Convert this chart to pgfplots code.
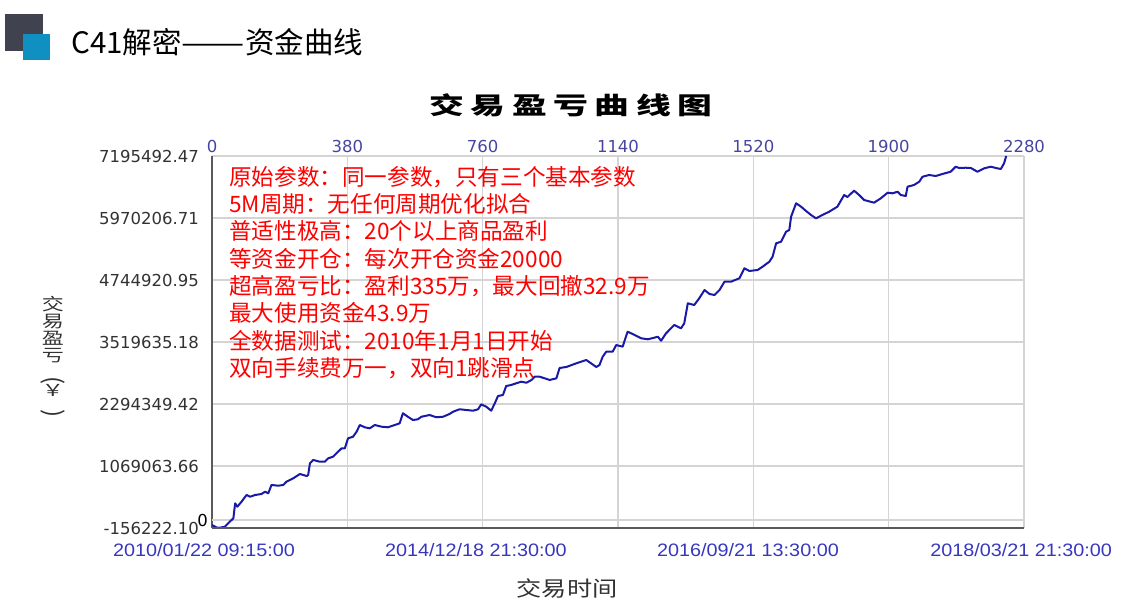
\documentclass[border=0pt]{standalone}
\usepackage{pgfplots}
\pgfplotsset{compat=1.18}
\usepackage{fontspec}
\usepackage{graphicx}
\setmainfont{DejaVu Sans}
\newfontfamily\cjk{Noto Sans CJK SC}
\newfontfamily\cjkwide{Noto Sans CJK SC}[FakeStretch=1.45]
\newfontfamily\cjkx{Noto Sans CJK SC}[FakeStretch=1.2]
\newfontfamily\datefont{Liberation Sans}[FakeStretch=1.1]

\definecolor{curve}{RGB}{25,25,165}
\definecolor{gridgray}{RGB}{212,212,212}
\definecolor{axisgray}{RGB}{90,90,90}
\definecolor{topblue}{RGB}{70,70,160}
\definecolor{dateblue}{RGB}{55,55,190}
\definecolor{labgray}{RGB}{50,50,50}
\definecolor{icondark}{RGB}{65,66,80}
\definecolor{iconblue}{RGB}{16,144,192}

\begin{document}
\begin{tikzpicture}
\useasboundingbox (0pt,0pt) rectangle (1125pt,614pt);

% slide header
\fill[icondark] (5pt,600pt) rectangle (43pt,563pt);
\fill[iconblue] (23pt,580pt) rectangle (50pt,554pt);
\node[anchor=west, inner sep=0pt, font=\cjk\fontsize{29.5}{29.5}\selectfont] at (71pt,572pt)
  {C41解密\scalebox{1.28}[1]{——}资金曲线};

% chart title
\node[inner sep=0pt, font=\cjkwide\bfseries\fontsize{24}{24}\selectfont] at (571pt,509pt)
  {交\hspace{6.5pt}易\hspace{6.5pt}盈\hspace{6.5pt}亏\hspace{6.5pt}曲\hspace{6.5pt}线\hspace{6.5pt}图};

% y label (stacked characters)
\node[align=center, inner sep=0pt, text=labgray, font=\cjk\fontsize{21}{17}\selectfont] at (53pt,257pt)
  {\scalebox{1.05}[0.8]{交}\\\scalebox{1.05}[0.8]{易}\\\scalebox{1.05}[0.8]{盈}\\\scalebox{1.05}[0.8]{亏}\\[-2pt]
   \rotatebox{-90}{\fontsize{24}{24}\selectfont(}\\[-2pt]\scalebox{1.05}[0.8]{￥}\\[-4pt]\rotatebox{-90}{\fontsize{24}{24}\selectfont)}};

% x label
\node[inner sep=0pt, text=labgray, font=\cjkx\fontsize{21}{21}\selectfont] at (567pt,26pt) {交易时间};

\begin{axis}[
  at={(212pt,86pt)}, anchor=south west,
  scale only axis, width=812pt, height=372pt,
  xmin=0, xmax=2280,
  ymin=-156222.10, ymax=7195492.47,
  enlargelimits=false, clip=false,
  scaled x ticks=false, scaled y ticks=false,
  axis x line*=top, axis y line*=left,
  x axis line style={draw=gridgray, line width=1.2pt, -},
  y axis line style={draw=axisgray, line width=1.6pt, -},
  xtick={0,380,760,1140,1520,1900,2280},
  xticklabels={0,380,760,1140,1520,1900,2280},
  ytick={-156222.10,1069063.66,2294349.42,3519635.18,4744920.95,5970206.71,7195492.47},
  yticklabels={-156222.10,1069063.66,2294349.42,3519635.18,4744920.95,5970206.71,7195492.47},
  extra y ticks={0}, extra y tick labels={0},
  extra y tick style={yticklabel style={xshift=9pt, text=black}},
  grid=major, major grid style={draw=gridgray, line width=1.2pt},
  tick style={draw=none},
  xticklabel style={font=\fontsize{16.5}{16.5}\selectfont, text=topblue, inner sep=0pt, anchor=south, yshift=3pt},
  yticklabel style={font=\fontsize{16.5}{16.5}\selectfont, text=labgray, inner sep=0pt, anchor=east, xshift=-13pt},
]
\addplot[curve, line width=2pt, line join=round] coordinates {
(0,-97000) (13,-146000) (22,-150000) (36,-131000) (50,-32000) (60,35000) (65,332000) (71,265000)
(83,364000) (97,496000) (107,462000) (121,496000) (139,516000) (149,561000) (158,530000) (167,694000)
(186,680000) (200,694000) (209,759000) (228,826000) (247,911000) (266,871000) (270,891000) (275,1122000)
(284,1188000) (303,1154000) (317,1154000) (326,1221000) (340,1253000) (354,1352000) (364,1419000) (373,1419000)
(382,1616000) (396,1648000) (406,1747000) (415,1879000) (429,1834000) (443,1814000) (457,1879000) (476,1846000)
(494,1834000) (513,1879000) (527,1913000) (536,2111000) (550,2043000) (564,1978000) (578,1992000) (588,2043000)
(611,2077000) (630,2032000) (649,2043000) (667,2097000) (677,2142000) (695,2190000) (714,2176000) (733,2162000)
(747,2190000) (756,2288000) (770,2241000) (784,2162000) (794,2308000) (803,2452000) (817,2472000) (826,2650000)
(840,2670000) (854,2703000) (868,2735000) (883,2715000) (897,2769000) (906,2834000) (920,2834000) (934,2802000)
(948,2769000) (967,2802000) (976,3006000) (995,3026000) (1023,3099000) (1051,3164000) (1079,3026000) (1088,3065000)
(1097,3229000) (1107,3328000) (1125,3328000) (1135,3460000) (1153,3427000) (1167,3723000) (1181,3678000) (1205,3593000)
(1224,3573000) (1252,3624000) (1261,3545000) (1275,3692000) (1298,3856000) (1317,3790000) (1326,3889000) (1336,4284000)
(1354,4251000) (1368,4383000) (1383,4547000) (1397,4468000) (1411,4448000) (1425,4547000) (1439,4711000) (1457,4711000)
(1481,4779000) (1495,4976000) (1509,4923000) (1532,4943000) (1546,5008000) (1565,5107000) (1574,5205000) (1584,5470000)
(1598,5502000) (1612,5699000) (1621,5733000) (1626,5996000) (1640,6261000) (1654,6194000) (1668,6109000) (1682,6030000)
(1696,5964000) (1714,6030000) (1733,6095000) (1756,6194000) (1775,6425000) (1784,6385000) (1803,6510000) (1817,6425000)
(1831,6326000) (1859,6273000) (1878,6360000) (1897,6470000) (1911,6458000) (1925,6490000) (1934,6425000) (1948,6405000)
(1953,6589000) (1971,6622000) (1986,6688000) (1995,6786000) (2014,6820000) (2032,6800000) (2051,6840000) (2074,6885000)
(2088,6984000) (2098,6958000) (2116,6964000) (2131,6958000) (2149,6885000) (2168,6952000) (2187,6984000) (2205,6952000)
(2215,6939000) (2224,7051000) (2230,7195000)
};
\end{axis}

% bottom axis line with date labels
\begin{axis}[
  at={(212pt,86pt)}, anchor=south west,
  scale only axis, width=812pt, height=372pt,
  xmin=0, xmax=2280,
  ymin=-156222.10, ymax=7195492.47,
  enlargelimits=false, scaled x ticks=false,
  axis x line*=bottom, axis y line=none,
  x axis line style={draw=axisgray, line width=1.6pt, -},
  tick style={draw=none},
  xtick={741,1505,2272},
  xticklabels={2014/12/18 21:30:00,2016/09/21 13:30:00,2018/03/21 21:30:00},
  extra x ticks={0}, extra x tick labels={2010/01/22 09:15:00},
  extra x tick style={xticklabel style={xshift=-8pt}},
  xticklabel style={font=\datefont\fontsize{18}{18}\selectfont, text=dateblue, inner sep=0pt, anchor=north, yshift=-15pt},
]
\end{axis}

% annotation
\node[anchor=north west, align=left, inner sep=0pt, text=red, font=\cjk\fontsize{22.6}{27.3}\selectfont] at (229pt,448pt)
{原始参数：同一参数，只有三个基本参数\\
5M周期：无任何周期优化拟合\\
普适性极高：20个以上商品盈利\\
等资金开仓：每次开仓资金20000\\
超高盈亏比：盈利335万，最大回撤32.9万\\
最大使用资金43.9万\\
全数据测试：2010年1月1日开始\\
双向手续费万一，双向1跳滑点};
\end{tikzpicture}
\end{document}
